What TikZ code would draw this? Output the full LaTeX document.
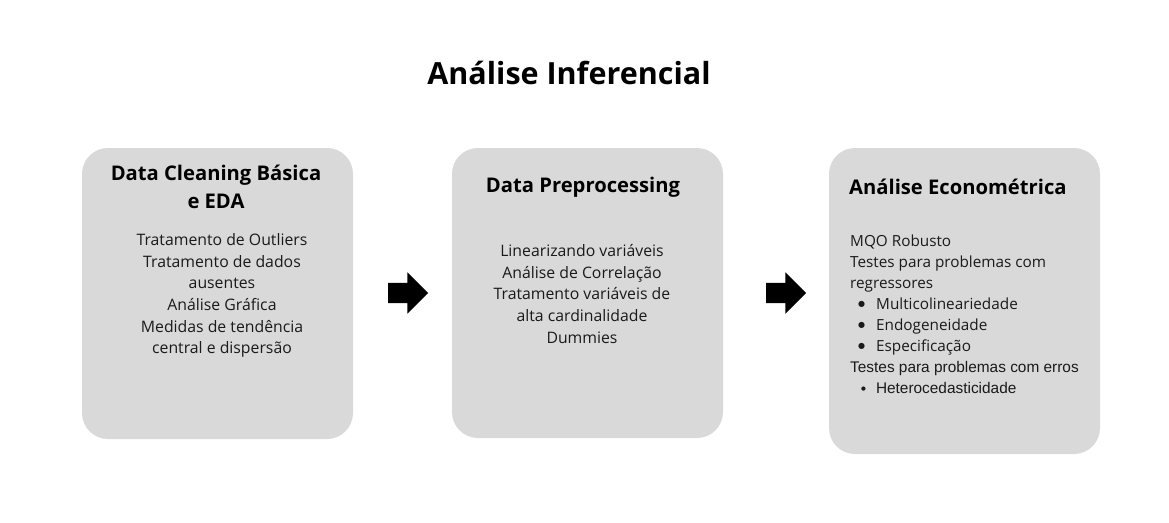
\documentclass[tikz,border=0pt]{standalone}
\usepackage{fontspec}
\setmainfont{Open Sans}
\newfontfamily\arialf{Liberation Sans}
\newfontfamily\dejavuf{DejaVu Sans}
\usetikzlibrary{shapes.arrows}
\definecolor{cardgray}{HTML}{D9D9D9}
\definecolor{bodytext}{HTML}{1A1A1A}
\newcommand{\bigbul}{\hspace*{8pt}{\dejavuf\fontsize{8}{8}\selectfont\raisebox{2.4pt}{●}}\hspace{11pt}}
\newcommand{\smallbul}{\hspace*{11pt}{\dejavuf\fontsize{5.5}{5.5}\selectfont\raisebox{2.6pt}{●}}\hspace{10pt}}
\begin{document}
\begin{tikzpicture}[x=1pt,y=-1pt,
  card/.style={fill=cardgray, draw=none, rounded corners=26pt, inner sep=0pt, minimum width=271pt},
  cardtitle/.style={font=\fontsize{20.2}{28}\selectfont\bfseries, align=center, inner sep=0pt, text=black},
  cardbody/.style={font=\fontsize{15.8}{21.6}\selectfont, inner sep=0pt, text=bodytext},
  blockarrow/.style={single arrow, fill=black, draw=none, inner xsep=0pt, inner ysep=10pt, text height=0pt, text depth=0pt, minimum height=40pt, single arrow head extend=10.5pt, single arrow head indent=0pt}
]
\useasboundingbox (0,0) rectangle (1169,522);
\fill[white] (0,0) rectangle (1169,522);

\node[font=\fontsize{30.5}{36}\selectfont\bfseries, inner sep=0pt] (title) at (569,73) {Análise Inferencial};

\node[card, minimum height=291pt] (b1) at (217.5,293.5) {};
\node[card, minimum height=290pt] (b2) at (587.5,293) {};
\node[card, minimum height=306pt] (b3) at (964.5,301) {};

\node[cardtitle] (t1) at (216,187) {Data Cleaning Básica\\e EDA};
\node[cardtitle] (t2) at (583,187) {Data Preprocessing};
\node[cardtitle, anchor=west] (t3) at (849,187) {Análise Econométrica};

\node[cardbody, align=center] (c1) at (222,295.5) {Tratamento de Outliers\\Tratamento de dados\\ausentes\\Análise Gráfica\\Medidas de tendência\\central e dispersão};
\node[cardbody, align=center] (c2) at (582,294) {Linearizando variáveis\\Análise de Correlação\\Tratamento variáveis de\\alta cardinalidade\\Dummies};
\node[cardbody, font=\fontsize{15.3}{21}\selectfont, align=left, anchor=west] (c3) at (850,314) {MQO Robusto\\Testes para problemas com\\regressores\\
\bigbul Multicolineariedade\\
\bigbul Endogeneidade\\
\bigbul Especificação\\
{\arialf\fontsize{15.4}{21}\selectfont Testes para problemas com erros}\\
{\arialf\fontsize{15.4}{21}\selectfont\smallbul Heterocedasticidade}};

\node[blockarrow] (a1) at (403,293) {};
\node[blockarrow] (a2) at (781,293) {};
\end{tikzpicture}
\end{document}
